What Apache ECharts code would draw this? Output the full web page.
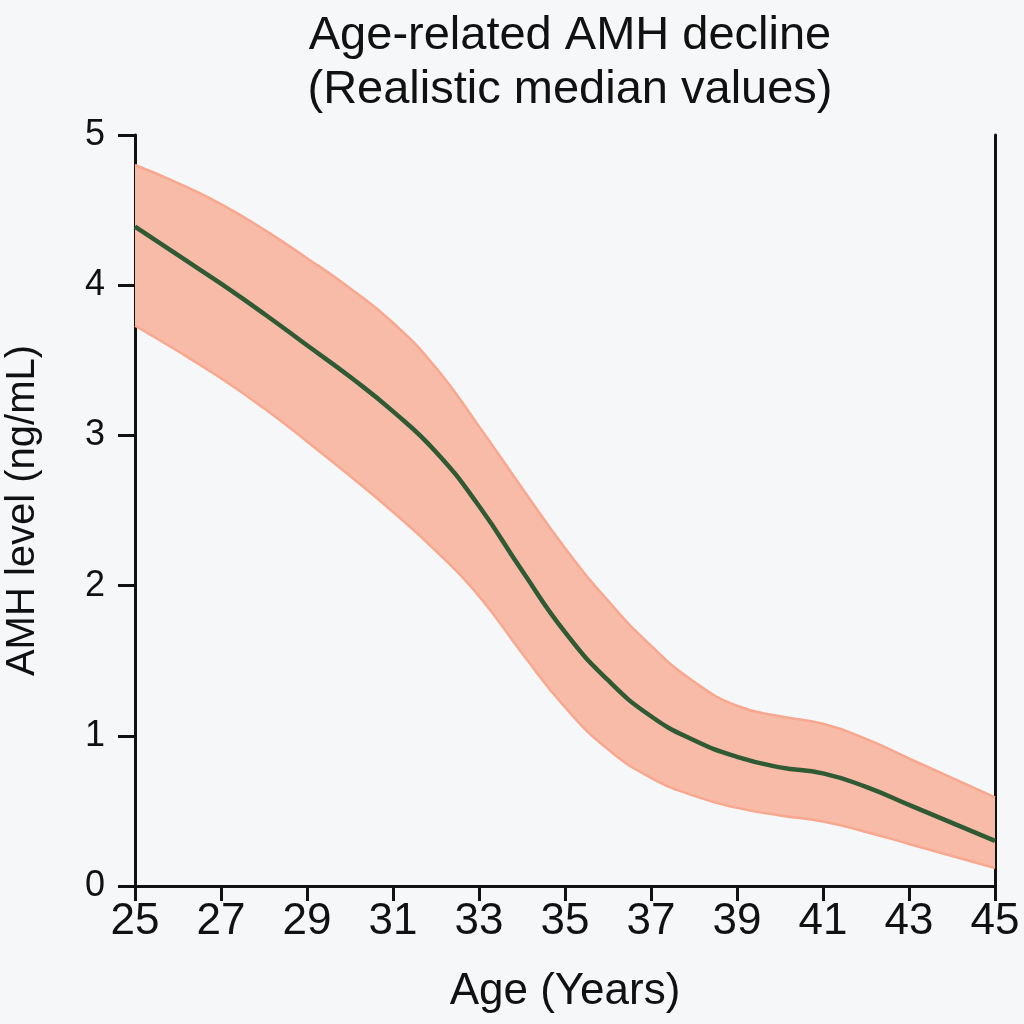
<!DOCTYPE html>
<html>
<head>
<meta charset="utf-8">
<script src="https://cdn.jsdelivr.net/npm/echarts@6/dist/echarts.min.js"></script>
<style>
html,body{margin:0;padding:0;background:#f6f7f9;}
#c{width:1024px;height:1024px;}
</style>
</head>
<body>
<div id="c"></div>
<script>
const ages = ['25','26','27','28','29','30','31','32','33','34','35','36','37','38','39','40','41','42','43','44','45'];
const medianAMH = [4.39, 4.20, 4.01, 3.81, 3.60, 3.39, 3.16, 2.89, 2.53, 2.10, 1.69, 1.37, 1.13, 0.97, 0.86, 0.79, 0.75, 0.66, 0.54, 0.42, 0.30];
const upperAMH  = [4.80, 4.68, 4.54, 4.37, 4.18, 3.98, 3.75, 3.45, 3.06, 2.65, 2.25, 1.90, 1.60, 1.36, 1.20, 1.13, 1.08, 0.98, 0.85, 0.72, 0.59];
const lowerAMH  = [3.73, 3.56, 3.38, 3.18, 2.96, 2.73, 2.49, 2.23, 1.93, 1.55, 1.19, 0.91, 0.72, 0.60, 0.52, 0.47, 0.43, 0.36, 0.28, 0.20, 0.12];
const yTicks = [0, 1, 2, 3, 4, 5];

const font = '"Liberation Sans", Arial, sans-serif';

const chart = echarts.init(document.getElementById('c'));
chart.setOption({
  backgroundColor: '#f6f7f9',
  animation: false,
  title: {
    text: 'Age-related AMH decline\n(Realistic median values)',
    left: 565, top: 4, textAlign: 'center',
    textStyle: { fontFamily: font, fontSize: 47, fontWeight: 'normal', color: '#111', lineHeight: 54 }
  },
  grid: { left: 135, right: 29, top: 135, bottom: 138, containLabel: false, outerBoundsMode: 'none' },
  xAxis: {
    type: 'category', data: ages, boundaryGap: false,
    name: 'Age (Years)', nameLocation: 'middle', nameGap: 84,
    nameTextStyle: { fontFamily: font, fontSize: 44, color: '#111' },
    axisLine: { lineStyle: { color: '#111', width: 3 } },
    axisTick: { length: 15, interval: 1, lineStyle: { color: '#111', width: 3 } },
    axisLabel: { fontFamily: font, fontSize: 44, color: '#111', margin: 14, interval: 1 },
    splitLine: { show: false }
  },
  yAxis: [{
    type: 'value', min: yTicks[0], max: yTicks[yTicks.length - 1], interval: 1,
    name: 'AMH level (ng/mL)', nameLocation: 'middle', nameGap: 92,
    nameTextStyle: { fontFamily: font, fontSize: 40, color: '#111' },
    axisLine: { show: true, lineStyle: { color: '#111', width: 3 } },
    axisTick: { show: true, length: 17, lineStyle: { color: '#111', width: 3 } },
    axisLabel: { fontFamily: font, fontSize: 36, color: '#111', margin: 30 },
    splitLine: { show: false }
  }, {
    type: 'value', min: yTicks[0], max: yTicks[yTicks.length - 1], interval: 1, position: 'right',
    axisLine: { show: true, lineStyle: { color: '#111', width: 3 } },
    axisTick: { show: false }, axisLabel: { show: false }, splitLine: { show: false }
  }],
  series: [
    {
      type: 'line', name: 'lower', stack: 'band', smooth: 0.5, symbol: 'none',
      data: lowerAMH,
      lineStyle: { color: '#f7a88f', width: 2.5 }, z: 2
    },
    {
      type: 'line', name: 'band', stack: 'band', smooth: 0.5, symbol: 'none',
      data: upperAMH.map((u, i) => +(u - lowerAMH[i]).toFixed(2)),
      lineStyle: { color: '#f7a88f', width: 2.5 },
      areaStyle: { color: '#f8bba8', opacity: 1 }, z: 2
    },
    {
      type: 'line', name: 'median', smooth: 0.5, symbol: 'none',
      data: medianAMH,
      lineStyle: { color: '#2f5a34', width: 4.5 }, z: 3
    }
  ]
});
</script>
</body>
</html>
